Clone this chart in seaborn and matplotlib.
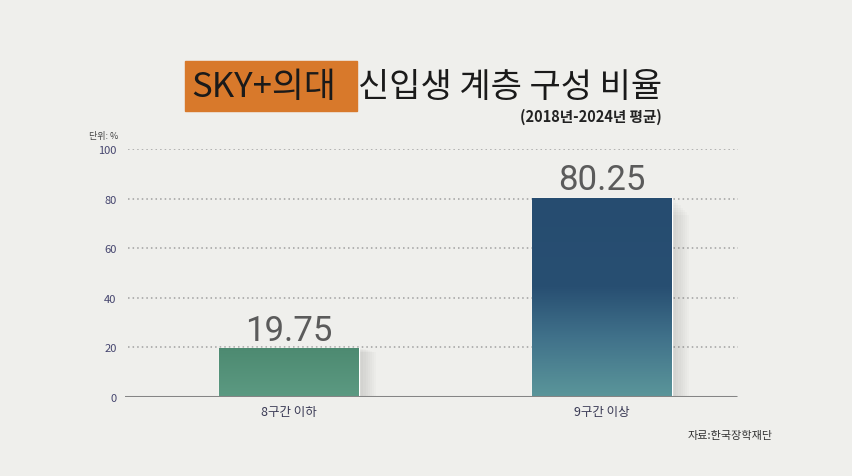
import numpy as np
import matplotlib.pyplot as plt
import seaborn as sns
import pandas as pd
from matplotlib.colors import LinearSegmentedColormap
from matplotlib.patches import Rectangle

# data
categories = ["8구간 이하", "9구간 이상"]
values = [19.75, 80.25]
yticks = [0, 20, 40, 60, 80, 100]

sns.set_theme(style="white")
plt.rcParams['font.family'] = ['Noto Sans CJK KR', 'DejaVu Sans']

bg = '#efefec'
fig = plt.figure(figsize=(8.53, 4.77), dpi=100, facecolor=bg)
W, H = 853, 477


def fx(px):
    return px / W


def fy(py):
    return 1 - py / H


ax = fig.add_axes([fx(125), fy(398), fx(740) - fx(125), fy(150) - fy(398)])
ax.set_facecolor('none')

df = pd.DataFrame({"구간": categories, "비율": values})
sns.barplot(data=df, x="구간", y="비율", ax=ax, width=0.447, color='#528e76', zorder=3)

ax.set_yticks(yticks)
ax.set_xlabel('')
ax.set_ylabel('')
for s in ax.spines.values():
    s.set_visible(False)

# dotted grid
for t in yticks[1:]:
    ax.axhline(t, xmin=0.005, xmax=0.996, color='#a0a0a0', lw=1.1, ls=(0, (1, 2)), zorder=1)
ax.axhline(0, xmin=0, xmax=0.993, color='#858585', lw=2.2, zorder=4)

ax.tick_params(axis='y', length=0, pad=6, labelsize=8, labelcolor='#45456e')
ax.tick_params(axis='x', length=0, pad=6, labelsize=9, labelcolor='#3a3a55')

# gradients for the bars
cmaps = [
    LinearSegmentedColormap.from_list('g', [(0, '#5c9a82'), (1, '#4d8a71')]),
    LinearSegmentedColormap.from_list('b', [(0, '#5b969a'), (0.3, '#40718a'),
                                            (0.55, '#284f72'), (1, '#264c70')]),
]
grad = np.linspace(0, 1, 256).reshape(-1, 1)
for p, cm in zip(ax.patches, cmaps):
    x0, y0 = p.get_x(), p.get_y()
    w, h = p.get_width(), p.get_height()
    # soft shadow on the right
    for k in range(8):
        ax.add_patch(Rectangle((x0 + w, y0), 0.007 * (k + 1), h * (1 - 0.012 * k),
                               color='#000000', alpha=0.015, lw=0, zorder=2))
    p.set_facecolor('none')
    im = ax.imshow(grad, cmap=cm, origin='lower', aspect='auto',
                   extent=[x0, x0 + w, y0, y0 + h], zorder=3)
    im.set_clip_path(p)
    ax.text(x0 + w / 2, h + 0.6, f"{h:.2f}", ha='center', va='bottom',
            fontsize=25, color='#5b5b5b', family=['Roboto', 'DejaVu Sans'])

ax.set_ylim(0, 100)
ax.set_xlim(-0.524, 1.441)

# title with orange highlight
fig.patches.append(Rectangle((fx(185), fy(112)), fx(357) - fx(185), fy(62) - fy(112),
                             transform=fig.transFigure, color='#d8792b', zorder=0))
fig.text(fx(191), fy(88), "SKY+의대", fontsize=25, color='#1a1a1a', va='center', ha='left',
         fontweight='medium')
fig.text(fx(662), fy(88), "신입생 계층 구성 비율", fontsize=24.5, color='#1a1a1a',
         va='center', ha='right', fontweight='medium')
fig.text(fx(662), fy(117), "(2018년-2024년 평균)", fontsize=10.5, color='#222222',
         va='center', ha='right', fontweight='bold')

fig.text(fx(89), fy(137), "단위: %", fontsize=6.5, color='#444444', va='center', ha='left')
fig.text(fx(773), fy(436), "자료:한국장학재단", fontsize=8, color='#333333',
         va='center', ha='right')

fig.savefig('out.png', dpi=100, facecolor=bg)
